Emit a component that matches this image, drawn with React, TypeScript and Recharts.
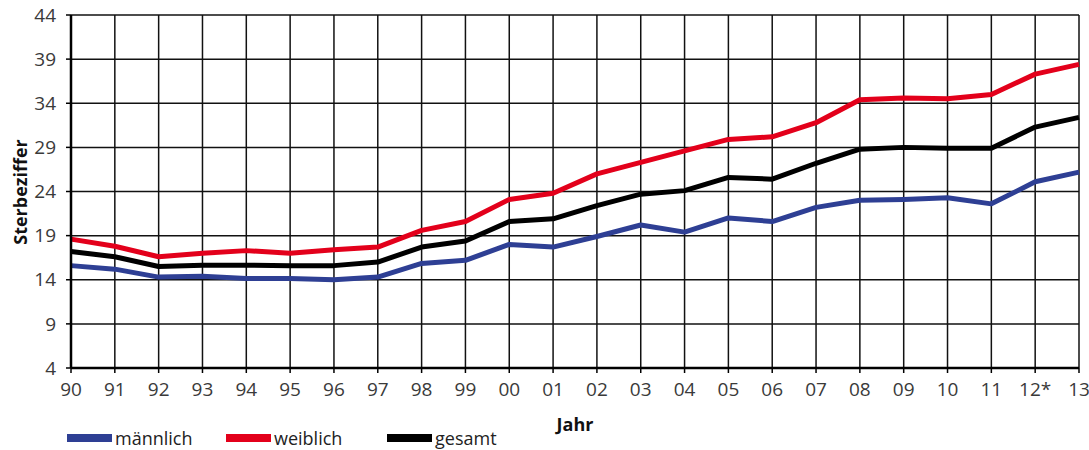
import { LineChart, Line, XAxis, YAxis, CartesianGrid } from "recharts";

const years = ["90", "91", "92", "93", "94", "95", "96", "97", "98", "99", "00", "01", "02", "03", "04", "05", "06", "07", "08", "09", "10", "11", "12*", "13"];
const maennlich = [15.6, 15.2, 14.3, 14.4, 14.15, 14.15, 14.0, 14.3, 15.85, 16.2, 18.0, 17.7, 18.9, 20.2, 19.4, 21.0, 20.6, 22.2, 23.0, 23.1, 23.3, 22.6, 25.1, 26.2];
const weiblich = [18.6, 17.8, 16.6, 17.0, 17.3, 17.0, 17.4, 17.7, 19.6, 20.6, 23.1, 23.8, 26.0, 27.3, 28.6, 29.9, 30.2, 31.8, 34.4, 34.6, 34.5, 35.0, 37.3, 38.4];
const gesamt = [17.2, 16.6, 15.5, 15.65, 15.65, 15.6, 15.6, 16.0, 17.7, 18.4, 20.6, 20.9, 22.4, 23.7, 24.1, 25.6, 25.4, 27.2, 28.8, 29.0, 28.9, 28.9, 31.3, 32.4];
const yTicks = [4, 9, 14, 19, 24, 29, 34, 39, 44];

const data = years.map((y, i) => ({
  year: y,
  maennlich: maennlich[i],
  weiblich: weiblich[i],
  gesamt: gesamt[i],
}));

const font = "'Open Sans', 'DejaVu Sans', sans-serif";

const legendItems = [
  { name: "männlich", color: "#2e3f94", left: 67 },
  { name: "weiblich", color: "#e3001b", left: 226 },
  { name: "gesamt", color: "#000000", left: 387 },
];

export default function App() {
  return (
    <div style={{ position: "absolute", left: 0, top: 0, width: 1089, height: 450, background: "#fff" }}>
      <LineChart width={1089} height={450} data={data} margin={{ top: 15, right: 10, left: 11, bottom: 19 }}>
        <CartesianGrid stroke="#111" strokeWidth={1.5} />
        <XAxis
          dataKey="year"
          interval={0}
          height={63}
          tickSize={5}
          tickMargin={10}
          tick={{ fontSize: 19, fill: "#3a3a3a", fontFamily: font }}
          axisLine={{ stroke: "#000", strokeWidth: 2.5 }}
          tickLine={{ stroke: "#000", strokeWidth: 1.5 }}
          label={{ value: "Jahr", position: "insideBottom", offset: 0, fontSize: 18, fontWeight: 700, fill: "#111", fontFamily: font }}
        />
        <YAxis
          width={60}
          domain={[4, 44]}
          ticks={yTicks}
          interval={0}
          tickSize={5}
          tickMargin={10}
          tick={{ fontSize: 19, fill: "#3a3a3a", fontFamily: font }}
          axisLine={{ stroke: "#000", strokeWidth: 2.5 }}
          tickLine={{ stroke: "#000", strokeWidth: 1.5 }}
          label={() => (
            <text
              x={27}
              y={192}
              transform="rotate(-90 27 192)"
              textAnchor="middle"
              fontSize={18}
              fontWeight={700}
              fill="#111"
              fontFamily={font}
            >
              Sterbeziffer
            </text>
          )}
        />
        <Line dataKey="maennlich" name="männlich" stroke="#2e3f94" strokeWidth={5} dot={false} isAnimationActive={false} strokeLinejoin="round" />
        <Line dataKey="weiblich" name="weiblich" stroke="#e3001b" strokeWidth={5} dot={false} isAnimationActive={false} strokeLinejoin="round" />
        <Line dataKey="gesamt" name="gesamt" stroke="#000" strokeWidth={5} dot={false} isAnimationActive={false} strokeLinejoin="round" />
      </LineChart>
      <div style={{ position: "absolute", left: 0, top: 426, width: 1089, height: 24, fontFamily: font, fontSize: 18, color: "#222" }}>
        {legendItems.map((it) => (
          <div key={it.name} style={{ position: "absolute", left: it.left, top: 0, display: "flex", alignItems: "center" }}>
            <span style={{ display: "inline-block", width: 45, height: 8, background: it.color, marginRight: 3 }} />
            <span>{it.name}</span>
          </div>
        ))}
      </div>
    </div>
  );
}
